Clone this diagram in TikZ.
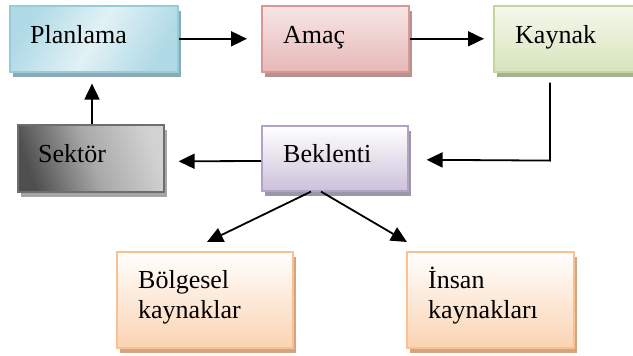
\documentclass[tikz,border=0pt]{standalone}
\usepackage{fontspec}
\setmainfont{Liberation Serif}
\usetikzlibrary{shadows,arrows.meta,calc}
\definecolor{planB}{HTML}{92CDDC}
\definecolor{planA}{HTML}{B0DAE6}
\definecolor{planC}{HTML}{E2F1F5}
\definecolor{planS}{HTML}{8DA9B3}
\definecolor{amacB}{HTML}{D99694}
\definecolor{amacT}{HTML}{F7E6E6}
\definecolor{amacD}{HTML}{E6B9B8}
\definecolor{amacS}{HTML}{B39392}
\definecolor{kayB}{HTML}{C3D69B}
\definecolor{kayT}{HTML}{F4F8EC}
\definecolor{kayD}{HTML}{D7E4BD}
\definecolor{kayS}{HTML}{A8B094}
\definecolor{bekB}{HTML}{B3A2C7}
\definecolor{bekT}{HTML}{FFFFFF}
\definecolor{bekD}{HTML}{CCC1DA}
\definecolor{bekS}{HTML}{9D95A8}
\definecolor{orB}{HTML}{FAC090}
\definecolor{orT}{HTML}{FFFFFF}
\definecolor{orD}{HTML}{FBD3B2}
\definecolor{orS}{HTML}{D3A681}
\definecolor{sekB}{HTML}{6E6E6E}
\definecolor{sekD}{HTML}{4F4F4F}
\definecolor{sekM}{HTML}{A8A8A8}
\definecolor{sekL}{HTML}{D2D2D2}
\definecolor{sekS}{HTML}{A6A6A6}
\tikzset{
  box/.style={draw, line width=1.6pt, inner sep=0pt, anchor=north west},
  shad/.style={drop shadow={shadow xshift=3pt, shadow yshift=-5pt, fill=#1, opacity=1}},
  lbl/.style={anchor=base west, inner sep=0pt, font=\fontsize{26}{30}\selectfont, align=left},
  arr/.style={line width=1.8pt, -{Triangle[length=16pt,width=15pt]}},
  ln/.style={line width=1.8pt}
}
\begin{document}
\begin{tikzpicture}[x=1pt,y=-1pt]
\useasboundingbox (0,0) rectangle (633,356);
\clip (0,0) rectangle (633,356);
% boxes
\node[box, shad=planS, draw=planB, left color=planA, right color=planA, middle color=planC, shading angle=60,
      minimum width=168pt, minimum height=66pt] (plan) at (9,5) {};
\node[box, shad=amacS, draw=amacB, top color=amacT, bottom color=amacD,
      minimum width=147pt, minimum height=66pt] (amac) at (261,5) {};
\node[box, shad=kayS, draw=kayB, top color=kayT, bottom color=kayD,
      minimum width=150pt, minimum height=66pt] (kay) at (493,5) {};
\node[box, shad=sekS, draw=sekB, left color=sekD, right color=sekL, middle color=sekM, shading angle=110,
      minimum width=146pt, minimum height=67pt] (sek) at (17,124) {};
\node[box, shad=bekS, draw=bekB, top color=bekT, bottom color=bekD,
      minimum width=146pt, minimum height=65pt] (bek) at (261,125) {};
\node[box, shad=orS, draw=orB, top color=orT, bottom color=orD,
      minimum width=176pt, minimum height=96pt] (bol) at (116,251) {};
\node[box, shad=orS, draw=orB, top color=orT, bottom color=orD,
      minimum width=167pt, minimum height=96pt] (ins) at (406,251) {};
% texts
\node[lbl] (tplan) at (30,43) {Planlama};
\node[lbl] (tamac) at (283,43) {Amaç};
\node[lbl] (tkay) at (515,43) {Kaynak};
\node[lbl] (tsek) at (38,162) {Sektör};
\node[lbl] (tbek) at (283,162) {Beklenti};
\node[lbl] (tbol) at (138,318) {Bölgesel\\kaynaklar};
\node[lbl] (tins) at (428,318) {İnsan\\kaynakları};
% connectors
\draw[arr] (plan.east) -- ($(amac.west)+(-14,0)$);
\draw[arr] (amac.east) -- ($(kay.west)+(-9,0)$);
\coordinate (kd) at ($(kay.south west)+(57,10)$);
\coordinate (kc) at ($(kay.south west)+(57,88)$);
\draw[arr] (kd) -- (kc) -- ($(bek.east)+(18,1.5)$);
\draw[arr] (bek.west |- 0,161) -- ($(sek.east)+(14,3)$);
\draw[arr] (sek.north -| 92,0) -- ($(plan.south -| 92,0)+(0,11)$);
\draw[arr] ($(bek.south west)+(50,0)$) -- ($(bol.north west)+(91,-9)$);
\draw[arr] ($(bek.south west)+(60,0)$) -- ($(ins.north west)+(1,-9)$);
\end{tikzpicture}
\end{document}
